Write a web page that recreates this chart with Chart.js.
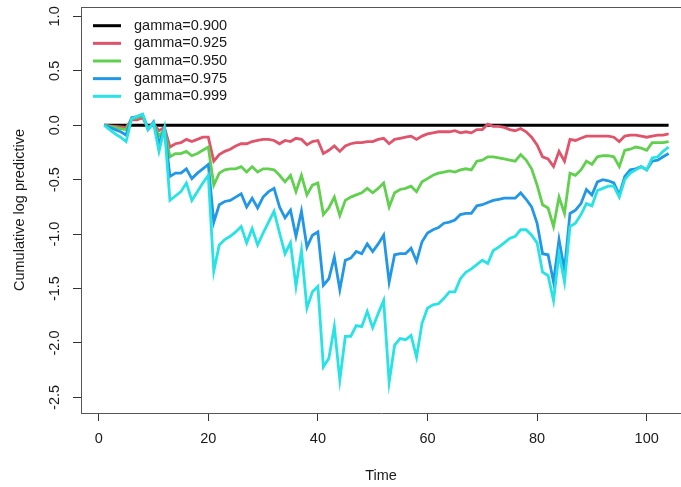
<!DOCTYPE html>
<html>
<head>
<meta charset="utf-8">
<script src="https://cdn.jsdelivr.net/npm/chart.js@4/dist/chart.umd.min.js"></script>
<style>
  html, body { margin: 0; padding: 0; background: #fff; overflow: hidden; }
  canvas { display: block; }
</style>
</head>
<body>
<canvas id="chartGamma" width="681" height="487"></canvas>
<script>
const time = [1, 2, 3, 4, 5, 6, 7, 8, 9, 10, 11, 12, 13,
  14, 15, 16, 17, 18, 19, 20, 21, 22, 23, 24, 25, 26,
  27, 28, 29, 30, 31, 32, 33, 34, 35, 36, 37, 38, 39,
  40, 41, 42, 43, 44, 45, 46, 47, 48, 49, 50, 51, 52,
  53, 54, 55, 56, 57, 58, 59, 60, 61, 62, 63, 64, 65,
  66, 67, 68, 69, 70, 71, 72, 73, 74, 75, 76, 77, 78,
  79, 80, 81, 82, 83, 84, 85, 86, 87, 88, 89, 90, 91,
  92, 93, 94, 95, 96, 97, 98, 99, 100, 101, 102, 103, 104];

const g900 = [0, 0, 0, 0, 0, 0, 0, 0, 0, 0, 0, 0, 0,
  0, 0, 0, 0, 0, 0, 0, 0, 0, 0, 0, 0, 0,
  0, 0, 0, 0, 0, 0, 0, 0, 0, 0, 0, 0, 0,
  0, 0, 0, 0, 0, 0, 0, 0, 0, 0, 0, 0, 0,
  0, 0, 0, 0, 0, 0, 0, 0, 0, 0, 0, 0, 0,
  0, 0, 0, 0, 0, 0, 0, 0, 0, 0, 0, 0, 0,
  0, 0, 0, 0, 0, 0, 0, 0, 0, 0, 0, 0, 0,
  0, 0, 0, 0, 0, 0, 0, 0, 0, 0, 0, 0, 0];

const g925 = [0, -0.005, -0.01, -0.015, -0.02, 0.05, 0.05, 0.07, -0.02, 0.01, -0.05, -0.02, -0.20,
  -0.17, -0.16, -0.13, -0.15, -0.13, -0.11, -0.11, -0.33, -0.27, -0.24, -0.22, -0.19, -0.17,
  -0.17, -0.15, -0.14, -0.13, -0.13, -0.14, -0.17, -0.14, -0.15, -0.12, -0.13, -0.18, -0.15,
  -0.14, -0.26, -0.23, -0.19, -0.24, -0.19, -0.17, -0.16, -0.16, -0.15, -0.15, -0.13, -0.12,
  -0.17, -0.13, -0.12, -0.11, -0.10, -0.13, -0.10, -0.08, -0.07, -0.06, -0.06, -0.06, -0.05,
  -0.07, -0.06, -0.07, -0.04, -0.04, 0.01, -0.01, -0.01, -0.02, -0.04, -0.05, -0.03, -0.06,
  -0.11, -0.18, -0.29, -0.31, -0.38, -0.24, -0.33, -0.13, -0.14, -0.12, -0.10, -0.10, -0.10,
  -0.10, -0.10, -0.11, -0.15, -0.10, -0.09, -0.09, -0.10, -0.11, -0.10, -0.09, -0.09, -0.08];

const g950 = [0, -0.01, -0.02, -0.03, -0.04, 0.06, 0.07, 0.09, -0.03, 0.02, -0.10, -0.04, -0.29,
  -0.26, -0.26, -0.24, -0.28, -0.26, -0.23, -0.20, -0.55, -0.44, -0.41, -0.40, -0.40, -0.38,
  -0.43, -0.38, -0.43, -0.40, -0.40, -0.41, -0.46, -0.52, -0.46, -0.61, -0.46, -0.64, -0.55,
  -0.53, -0.82, -0.76, -0.66, -0.83, -0.69, -0.66, -0.64, -0.62, -0.58, -0.62, -0.58, -0.53,
  -0.75, -0.62, -0.59, -0.58, -0.56, -0.61, -0.52, -0.49, -0.46, -0.44, -0.43, -0.42, -0.43,
  -0.41, -0.40, -0.41, -0.33, -0.32, -0.29, -0.29, -0.30, -0.31, -0.32, -0.33, -0.27, -0.32,
  -0.40, -0.55, -0.73, -0.76, -0.93, -0.66, -0.81, -0.44, -0.46, -0.41, -0.33, -0.36, -0.29,
  -0.28, -0.28, -0.29, -0.38, -0.23, -0.22, -0.20, -0.21, -0.23, -0.16, -0.16, -0.16, -0.15];

const g975 = [0, -0.02, -0.04, -0.06, -0.09, 0.07, 0.08, 0.10, -0.04, 0.03, -0.17, -0.03, -0.47,
  -0.44, -0.44, -0.40, -0.49, -0.44, -0.40, -0.36, -0.89, -0.73, -0.70, -0.69, -0.66, -0.63,
  -0.75, -0.67, -0.76, -0.66, -0.61, -0.58, -0.75, -0.85, -0.78, -1.02, -0.79, -1.12, -1.01,
  -0.98, -1.47, -1.41, -1.21, -1.51, -1.24, -1.22, -1.16, -1.18, -1.09, -1.16, -1.09, -1.01,
  -1.44, -1.19, -1.18, -1.18, -1.13, -1.25, -1.07, -0.99, -0.96, -0.94, -0.90, -0.89, -0.87,
  -0.82, -0.81, -0.81, -0.74, -0.73, -0.71, -0.69, -0.68, -0.67, -0.67, -0.67, -0.62, -0.68,
  -0.75, -0.90, -1.18, -1.19, -1.44, -1.05, -1.33, -0.81, -0.78, -0.72, -0.59, -0.64, -0.52,
  -0.50, -0.51, -0.53, -0.64, -0.47, -0.41, -0.40, -0.38, -0.41, -0.33, -0.32, -0.29, -0.26];

const g999 = [0, -0.04, -0.08, -0.11, -0.15, 0.06, 0.08, 0.10, -0.04, 0.02, -0.24, -0.03, -0.69,
  -0.65, -0.61, -0.53, -0.69, -0.61, -0.53, -0.46, -1.34, -1.10, -1.05, -1.02, -0.98, -0.93,
  -1.08, -0.95, -1.10, -0.99, -0.89, -0.79, -0.99, -1.18, -1.08, -1.48, -1.15, -1.68, -1.53,
  -1.48, -2.22, -2.14, -1.85, -2.34, -1.94, -1.94, -1.84, -1.85, -1.71, -1.86, -1.73, -1.61,
  -2.36, -2.02, -1.96, -1.97, -1.93, -2.13, -1.82, -1.68, -1.65, -1.64, -1.59, -1.53, -1.53,
  -1.41, -1.35, -1.32, -1.28, -1.24, -1.27, -1.15, -1.12, -1.08, -1.04, -1.02, -0.96, -0.96,
  -1.01, -1.08, -1.35, -1.38, -1.61, -1.18, -1.44, -0.93, -0.90, -0.82, -0.72, -0.74, -0.60,
  -0.58, -0.56, -0.56, -0.66, -0.50, -0.44, -0.41, -0.38, -0.41, -0.30, -0.29, -0.24, -0.20];

const labels = ['gamma=0.900', 'gamma=0.925', 'gamma=0.950', 'gamma=0.975', 'gamma=0.999'];
const xTicks = [0, 20, 40, 60, 80, 100];
const yTicks = [-2.5, -2.0, -1.5, -1.0, -0.5, 0.0, 0.5, 1.0];

const colors = ['#000000', '#DF536B', '#61D04F', '#2297E6', '#28E2E5'];
const allSeries = [g900, g925, g950, g975, g999];
const FONT = "'Liberation Sans', Arial, sans-serif";

Chart.defaults.font.family = FONT;
Chart.defaults.font.size = 14.5;
Chart.defaults.color = '#1a1a1a';

// R style legend, top-left inside the plot box
const rLegend = {
  id: 'rLegend',
  afterDraw(chart) {
    const { ctx, chartArea } = chart;
    const x0 = chartArea.left + 12;
    const y0 = chartArea.top + 18.7;
    chart.data.datasets.forEach((ds, i) => {
      const y = y0 + i * 17.65;
      ctx.save();
      ctx.strokeStyle = ds.borderColor;
      ctx.lineWidth = 3;
      ctx.beginPath();
      ctx.moveTo(x0, y);
      ctx.lineTo(x0 + 28, y);
      ctx.stroke();
      ctx.fillStyle = '#1a1a1a';
      ctx.font = '14.5px ' + FONT;
      ctx.textBaseline = 'middle';
      ctx.fillText(ds.label, x0 + 41, y);
      ctx.restore();
    });
  }
};

// top edge of the box
const topBorder = {
  id: 'topBorder',
  afterDraw(chart) {
    const { ctx, chartArea } = chart;
    ctx.save();
    ctx.strokeStyle = '#555';
    ctx.lineWidth = 1;
    ctx.beginPath();
    ctx.moveTo(chartArea.left, Math.floor(chartArea.top) + 0.5);
    ctx.lineTo(chartArea.right, Math.floor(chartArea.top) + 0.5);
    ctx.stroke();
    ctx.restore();
  }
};

const ctx = document.getElementById('chartGamma');

new Chart(ctx, {
  type: 'line',
  data: {
    datasets: allSeries.map((vals, i) => ({
      label: labels[i],
      data: time.map((t, j) => ({ x: t, y: vals[j] })),
      borderColor: colors[i],
      backgroundColor: colors[i],
      borderWidth: 2.8,
      pointRadius: 0,
      tension: 0,
      fill: false,
      order: allSeries.length - i
    }))
  },
  options: {
    responsive: false,
    animation: false,
    devicePixelRatio: 1,
    events: [],
    layout: { padding: { top: 7, right: 0, bottom: 0, left: 0 } },
    plugins: {
      legend: { display: false },
      tooltip: { enabled: false }
    },
    scales: {
      x: {
        type: 'linear',
        min: -3.23,
        max: 106.26,
        afterBuildTicks: axis => { axis.ticks = xTicks.map(v => ({ value: v })); },
        afterFit: axis => { axis.height = 74; axis.paddingLeft = 0; axis.paddingRight = 0; },
        ticks: { padding: 9.6, maxRotation: 0, callback: v => String(v) },
        grid: { drawOnChartArea: false, tickLength: 8, color: '#333' },
        border: { display: true, color: '#555', width: 1 },
        title: { display: true, text: 'Time', padding: { top: 0, bottom: 2.8 } }
      },
      y: {
        type: 'linear',
        min: -2.643,
        max: 1.086,
        afterBuildTicks: axis => { axis.ticks = yTicks.map(v => ({ value: v })); },
        afterFit: axis => { axis.width = 81; axis.paddingTop = 0; axis.paddingBottom = 0; },
        ticks: {
          padding: 5.5,
          minRotation: 90,
          maxRotation: 90,
          crossAlign: 'center',
          callback: v => v.toFixed(1)
        },
        grid: { drawOnChartArea: false, tickLength: 8, color: '#333' },
        border: { display: true, color: '#555', width: 1 },
        title: { display: true, text: 'Cumulative log predictive', padding: { top: 11.3, bottom: 0 } }
      }
    }
  },
  plugins: [rLegend, topBorder]
});
</script>
</body>
</html>
